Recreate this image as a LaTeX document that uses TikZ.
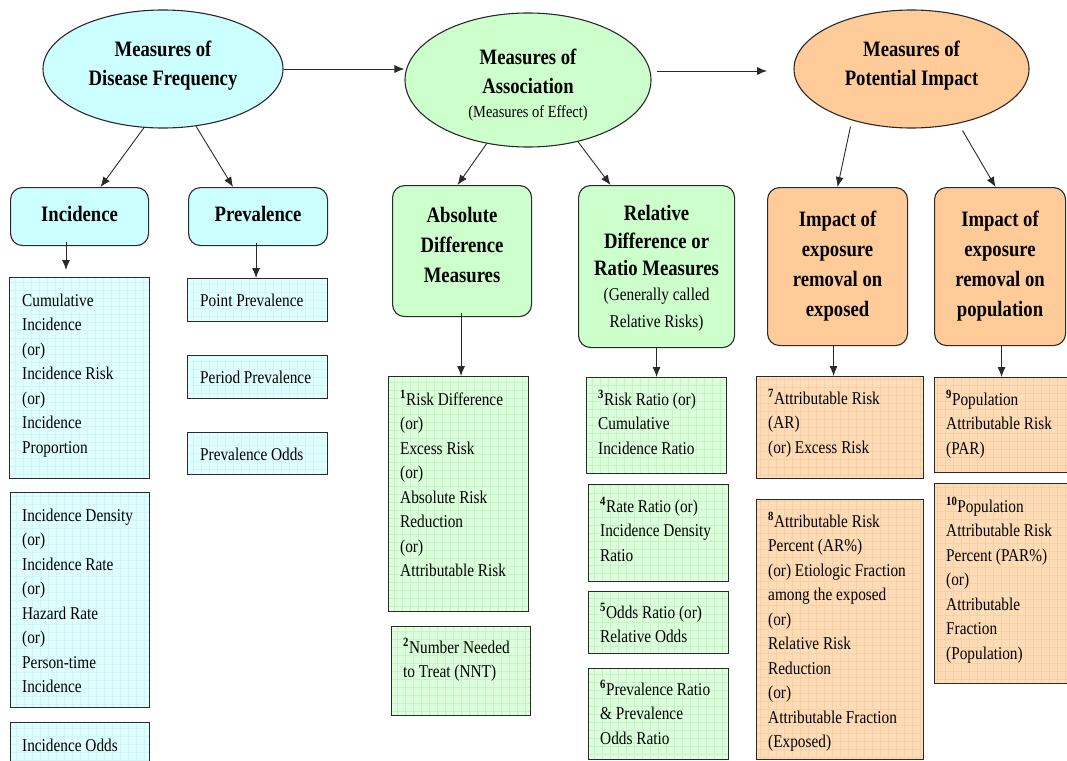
\documentclass[tikz,border=0pt]{standalone}
\usepackage{fontspec}
\setmainfont{Liberation Serif}[FakeStretch=0.85]
\usetikzlibrary{shapes.geometric,arrows.meta}

\definecolor{cyanmain}{HTML}{CCFFFF}
\definecolor{greenmain}{HTML}{CCFFCC}
\definecolor{orangemain}{HTML}{FFCC99}
\definecolor{cyanpale}{HTML}{E0FFFF}
\definecolor{greenpale}{HTML}{DCFFDC}
\definecolor{orangepale}{HTML}{FFDCB8}
\definecolor{cyangrid}{HTML}{D0F6FA}
\definecolor{greengrid}{HTML}{C8F2C8}
\definecolor{orangegrid}{HTML}{FACFA2}
\definecolor{edge}{HTML}{2A2A2A}

\newcommand{\nref}[1]{\textsuperscript{\textbf{#1}}}
\newcommand{\plainline}{\mdseries\fontsize{18}{24.5}\selectfont}

\tikzset{
  arr/.style={draw=edge, line width=0.9pt, -{Latex[length=10pt,width=8pt]}},
  bigoval/.style={ellipse, draw=edge, line width=1.1pt, inner sep=0pt},
  ovaltext/.style={inner sep=0pt, align=center, font=\fontsize{22}{29}\selectfont\bfseries},
  headbox/.style={rectangle, rounded corners=12pt, draw=edge, line width=1.1pt,
    inner sep=0pt, anchor=north west},
  headtext/.style={inner sep=0pt, align=center, font=\fontsize{22}{30}\selectfont\bfseries},
  listbox/.style={rectangle, draw=edge, line width=1.1pt, anchor=north west,
    inner sep=0pt, fill=#1pale,
    path picture={\draw[#1grid, line width=0.5pt, step=8pt]
      (path picture bounding box.south west) grid (path picture bounding box.north east);}},
  listtext/.style={anchor=base west, inner sep=0pt, align=flush left, text width=160pt,
    font=\fontsize{18}{24.5}\selectfont},
}

\begin{document}
\begin{tikzpicture}[x=1pt, y=-1pt]
\useasboundingbox (0,0) rectangle (1067,760);

% ---- top level ovals
\node[bigoval, fill=cyanmain, minimum width=240, minimum height=118] (freq) at (163,69) {};
\node[ovaltext] (freqt) at ([yshift=3pt]freq.center) {Measures of\\Disease Frequency};
\node[bigoval, fill=greenmain, minimum width=246, minimum height=134] (assoc) at (528,80) {};
\node[ovaltext] (assoct) at ([yshift=-5pt]assoc.center)
  {Measures of\\Association\\[-5pt]\mdseries\fontsize{17}{22}\selectfont (Measures of Effect)};
\node[bigoval, fill=orangemain, minimum width=235, minimum height=118] (impact) at (911.5,69) {};
\node[ovaltext] (impactt) at ([yshift=3pt]impact.center) {Measures of\\Potential Impact};
\coordinate (toimpact) at (767,71);

\draw[arr] (freq.east) -- (freq.east -| assoc.west);
\draw[arr] ([xshift=5pt]assoc.east |- toimpact) -- (toimpact);

% ---- second level headings
\node[headbox, fill=cyanmain, minimum width=138, minimum height=58] (inc) at (10,187) {};
\node[headtext] (inct) at ([yshift=3pt]inc.center) {Incidence};
\node[headbox, fill=cyanmain, minimum width=139, minimum height=58] (prev) at (188,187) {};
\node[headtext] (prevt) at ([yshift=3pt]prev.center) {Prevalence};
\node[headbox, fill=greenmain, minimum width=139, minimum height=131] (absd) at (392,185) {};
\node[headtext] (absdt) at ([yshift=6pt]absd.center) {Absolute\\Difference\\Measures};
\node[headbox, fill=greenmain, minimum width=156, minimum height=162] (reld) at (578,185) {};
\node[headtext, font=\fontsize{22}{27.5}\selectfont\bfseries] (reldt) at ([yshift=-2pt]reld.center)
  {Relative\\Difference or\\Ratio Measures\\[-3pt]\plainline (Generally called\\\plainline Relative Risks)};
\node[headbox, fill=orangemain, minimum width=140, minimum height=158] (impexp) at (767,187) {};
\node[headtext] (impexpt) at (impexp.center) {Impact of\\exposure\\removal on\\exposed};
\node[headbox, fill=orangemain, minimum width=131, minimum height=158] (imppop) at (934,187) {};
\node[headtext] (imppopt) at (imppop.center) {Impact of\\exposure\\removal on\\population};

\draw[arr] (freq.252) -- ([xshift=21pt]inc.north);
\draw[arr] (freq.300) -- ([xshift=-25pt]prev.north);
\draw[arr] (assoc.237) -- ([xshift=-4.5pt]absd.north);
\draw[arr] (assoc.309) -- ([xshift=-46pt]reld.north);
\draw[arr] ([xshift=-61pt,yshift=2pt]impact.south) -- (impexp.north);
\draw[arr] ([xshift=51pt,yshift=-2pt]impact.south) -- ([xshift=-4.5pt]imppop.north);

% ---- incidence column
\node[listbox=cyan, minimum width=140, minimum height=201] (cumi) at (9,277) {};
\node[listtext] (cumit) at ([shift={(13,29)}]cumi.north west)
  {Cumulative\\Incidence\\(or)\\Incidence Risk\\(or)\\Incidence\\Proportion};
\node[listbox=cyan, minimum width=139, minimum height=215] (dens) at (10,492) {};
\node[listtext] (denst) at ([shift={(12,29)}]dens.north west)
  {Incidence Density\\(or)\\Incidence Rate\\(or)\\Hazard Rate\\(or)\\Person-time\\Incidence};
\node[listbox=cyan, minimum width=139, minimum height=60] (iodds) at (10,722) {};
\node[listtext] (ioddst) at ([shift={(12,29)}]iodds.north west) {Incidence Odds};
\coordinate (incend) at (66,270);
\draw[arr] ([yshift=4pt]inc.south -| incend) -- (incend);

% ---- prevalence column
\node[listbox=cyan, minimum width=140, minimum height=43] (ppt) at (187,278) {};
\node[listtext] (pptt) at ([shift={(13,28)}]ppt.north west) {Point Prevalence};
\node[listbox=cyan, minimum width=140, minimum height=43] (pper) at (187,355) {};
\node[listtext] (ppert) at ([shift={(13,28)}]pper.north west) {Period Prevalence};
\node[listbox=cyan, minimum width=140, minimum height=42] (podds) at (187,432) {};
\node[listtext] (poddst) at ([shift={(13,28)}]podds.north west) {Prevalence Odds};
\draw[arr] ([xshift=-2pt,yshift=3pt]prev.south) -- ([xshift=-2pt]prev.south |- ppt.north);

% ---- absolute difference column
\node[listbox=green, minimum width=140, minimum height=235] (rd) at (388,376) {};
\node[listtext] (rdt) at ([shift={(12,29)}]rd.north west)
  {\nref{1}Risk Difference\\(or)\\Excess Risk\\(or)\\Absolute Risk\\Reduction\\(or)\\Attributable Risk};
\node[listbox=green, minimum width=139, minimum height=89] (nnt) at (391,626) {};
\node[listtext] (nntt) at ([shift={(12,27)}]nnt.north west)
  {\nref{2}Number Needed\\to Treat (NNT)};
\draw[arr] ([xshift=-1pt,yshift=4pt]absd.south) -- ([xshift=-1pt]absd.south |- rd.north);

% ---- ratio column
\node[listbox=green, minimum width=140, minimum height=96] (rr) at (586,377) {};
\node[listtext] (rrt) at ([shift={(12,28)}]rr.north west)
  {\nref{3}Risk Ratio (or)\\Cumulative\\Incidence Ratio};
\node[listbox=green, minimum width=140, minimum height=97] (rater) at (588,484) {};
\node[listtext] (ratert) at ([shift={(12,28)}]rater.north west)
  {\nref{4}Rate Ratio (or)\\Incidence Density\\Ratio};
\node[listbox=green, minimum width=140, minimum height=62] (orat) at (588,591) {};
\node[listtext] (oratt) at ([shift={(12,27)}]orat.north west)
  {\nref{5}Odds Ratio (or)\\Relative Odds};
\node[listbox=green, minimum width=140, minimum height=91] (prr) at (588,668) {};
\node[listtext] (prrt) at ([shift={(12,27)}]prr.north west)
  {\nref{6}Prevalence Ratio\\\&{} Prevalence\\Odds Ratio};
\draw[arr] (reld.south -| rr.north) -- (rr.north);

% ---- impact on exposed column
\node[listbox=orange, minimum width=167, minimum height=102] (ar) at (756,376) {};
\node[listtext] (art) at ([shift={(12,28)}]ar.north west)
  {\nref{7}Attributable Risk\\(AR)\\(or) Excess Risk};
\node[listbox=orange, minimum width=167, minimum height=260] (arp) at (756,499) {};
\node[listtext] (arpt) at ([shift={(12,28)}]arp.north west)
  {\nref{8}Attributable Risk\\Percent (AR\%)\\(or) Etiologic Fraction\\among the exposed\\(or)\\Relative Risk\\Reduction\\(or)\\Attributable Fraction\\(Exposed)};
\draw[arr] ([xshift=-4pt]impexp.south) -- ([xshift=-4pt]impexp.south |- ar.north);

% ---- impact on population column
\node[listbox=orange, minimum width=150, minimum height=95] (par) at (934,377) {};
\node[listtext] (part) at ([shift={(12,28)}]par.north west)
  {\nref{9}Population\\Attributable Risk\\(PAR)};
\node[listbox=orange, minimum width=150, minimum height=200] (parp) at (934,483) {};
\node[listtext] (parpt) at ([shift={(12,29)}]parp.north west)
  {\nref{10}Population\\Attributable Risk\\Percent (PAR\%)\\(or)\\Attributable\\Fraction\\(Population)};
\draw[arr] ([xshift=1.5pt]imppop.south) -- ([xshift=1.5pt]imppop.south |- par.north);

\end{tikzpicture}
\end{document}
